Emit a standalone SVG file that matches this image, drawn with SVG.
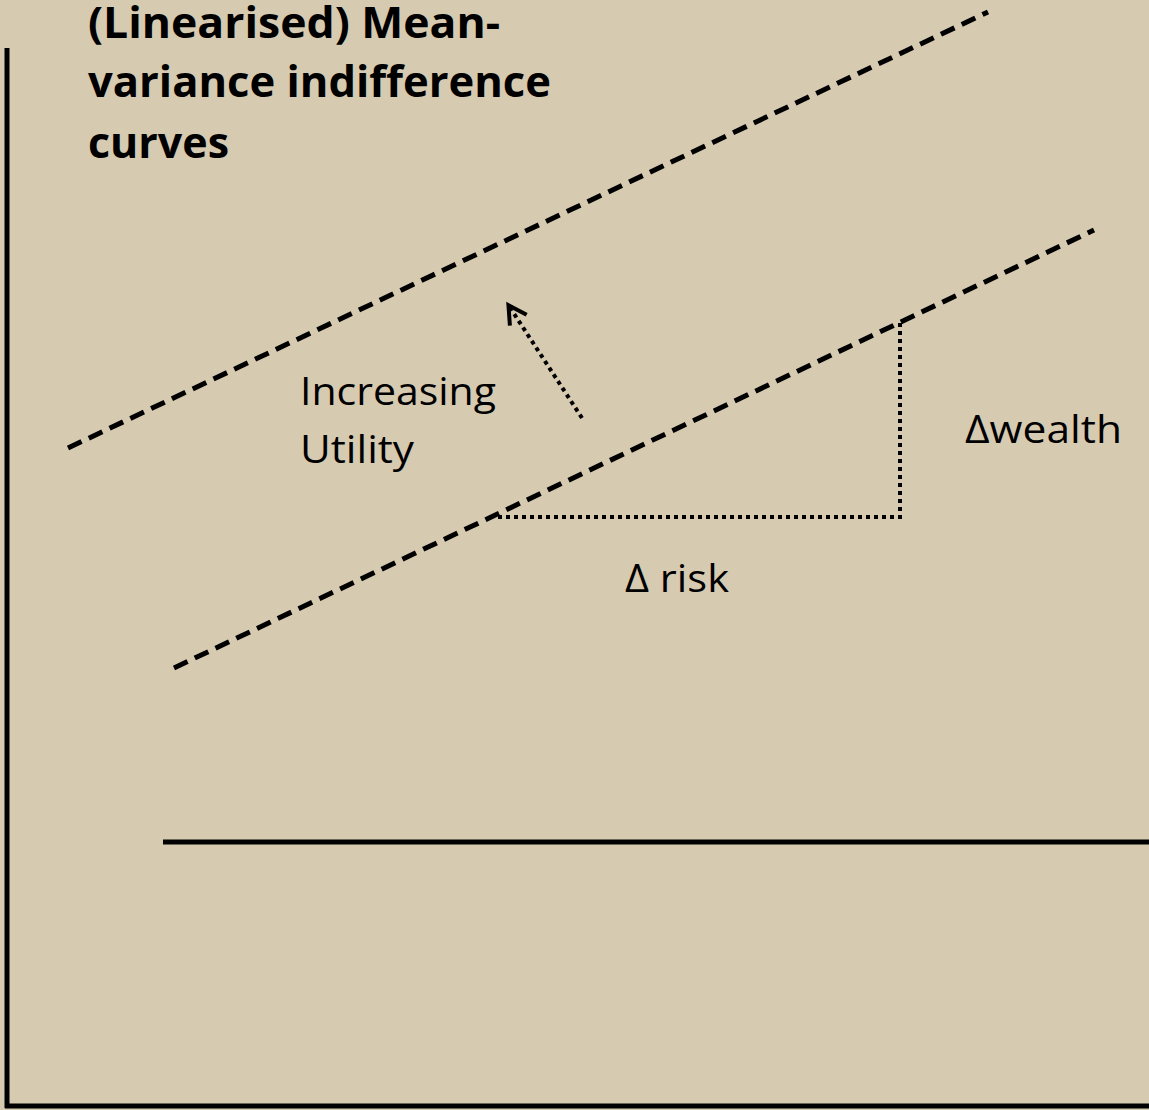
<svg xmlns="http://www.w3.org/2000/svg" width="1149" height="1110" viewBox="0 0 1149 1110">
  <defs>
    <style>
      .axis { stroke: #000; stroke-width: 5; fill: none; }
      .curve { stroke: #000; stroke-width: 5; fill: none; stroke-dasharray: 15 8; }
      .dot { stroke: #000; stroke-width: 4; fill: none; stroke-dasharray: 4 4; }
      .title { font-family: "Open Sans", "Liberation Sans", sans-serif; font-weight: bold; font-size: 43px; fill: #000; }
      .label { font-family: "Open Sans", "Liberation Sans", sans-serif; font-size: 38px; fill: #000; }
    </style>
    <marker id="chev" markerUnits="userSpaceOnUse" markerWidth="30" markerHeight="30" refX="21" refY="12" orient="auto" viewBox="0 0 30 24">
      <path d="M 4 2 L 22 12 L 4 22" stroke="#000" stroke-width="4" fill="none"/>
    </marker>
  </defs>
  <rect x="0" y="0" width="1149" height="1110" fill="#d6cab1"/>
  <g id="axes">
    <line class="axis" x1="7" y1="48" x2="7" y2="1108"/>
    <line class="axis" x1="5" y1="1106" x2="1149" y2="1106"/>
    <line class="axis" x1="163" y1="842" x2="1149" y2="842"/>
  </g>
  <g id="connectors">
    <line class="curve" x1="68" y1="448" x2="988" y2="12"/>
    <line class="curve" x1="174" y1="668" x2="1094" y2="230"/>
    <polyline class="dot" points="498,517 900,517 900,322"/>
    <line class="dot" x1="582" y1="418" x2="509" y2="306" marker-end="url(#chev)"/>
  </g>
  <g id="title">
    <text class="title" x="88" y="38" textLength="412" lengthAdjust="spacingAndGlyphs">(Linearised) Mean-</text>
    <text class="title" x="88" y="97" textLength="463" lengthAdjust="spacingAndGlyphs">variance indifference</text>
    <text class="title" x="88" y="158" textLength="141" lengthAdjust="spacingAndGlyphs">curves</text>
  </g>
  <g id="increasing-utility">
    <text class="label" x="300" y="405" textLength="196" lengthAdjust="spacingAndGlyphs">Increasing</text>
    <text class="label" x="300" y="463" textLength="114" lengthAdjust="spacingAndGlyphs">Utility</text>
  </g>
  <g id="delta-wealth">
    <text class="label" x="965" y="443" textLength="157" lengthAdjust="spacingAndGlyphs">Δwealth</text>
  </g>
  <g id="delta-risk">
    <text class="label" x="625" y="592" textLength="104" lengthAdjust="spacingAndGlyphs">Δ risk</text>
  </g>
</svg>
